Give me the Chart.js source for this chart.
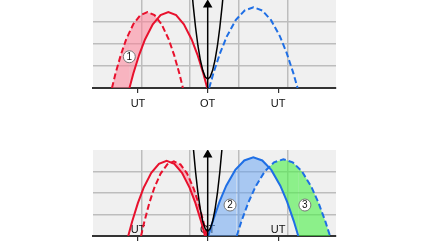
<!DOCTYPE html>
<html>
<head>
<meta charset="utf-8">
<script src="https://cdn.jsdelivr.net/npm/chart.js@4.4.0/dist/chart.umd.min.js"></script>
<style>
  html, body { margin: 0; padding: 0; background: #fff; width: 430px; height: 241px; overflow: hidden; }
  .box { position: absolute; left: 0; width: 430px; }
  #top { top: 0; height: 110px; }
  #bottom { top: 120px; height: 121px; }
</style>
</head>
<body>
<div class="box" id="top"><canvas id="chartTop"></canvas></div>
<div class="box" id="bottom"><canvas id="chartBottom"></canvas></div>
<script>
// --- data (x: grid cells 0..5, y: grid cells 0..4) ---
const tickPos = [0.926, 2.36, 3.81];
const tickLabels = ['UT', 'OT', 'UT'];

// top panel
const topRedSolidX  = [0.39, 0.75, 0.83, 0.95, 1.07, 1.23, 1.39, 1.55, 1.71, 1.87, 2.03, 2.15, 2.27, 2.35];
const topRedSolidY  = [0, 0, 0.656, 1.509, 2.208, 2.898, 3.312, 3.45, 3.312, 2.898, 2.208, 1.509, 0.656, 0];
const topRedDashX   = [0.39, 0.463, 0.573, 0.682, 0.828, 0.974, 1.12, 1.266, 1.412, 1.558, 1.668, 1.777, 1.85];
const topRedDashY   = [0, 0.656, 1.509, 2.208, 2.898, 3.312, 3.45, 3.312, 2.898, 2.208, 1.509, 0.656, 0];
const topBlueDashX  = [2.39, 2.481, 2.618, 2.754, 2.936, 3.118, 3.3, 3.482, 3.664, 3.846, 3.983, 4.119, 4.21];
const topBlueDashY  = [0, 0.697, 1.606, 2.349, 3.083, 3.523, 3.67, 3.523, 3.083, 2.349, 1.606, 0.697, 0];
const topBlackX = [2.01, 2.06, 2.11, 2.16, 2.21, 2.26, 2.31, 2.36, 2.41, 2.46, 2.51, 2.56, 2.61, 2.66, 2.71];
const topBlackY = [5.02, 3.79, 2.76, 1.91, 1.26, 0.79, 0.5, 0.41, 0.5, 0.79, 1.26, 1.91, 2.76, 3.79, 5.02];
const topMarkX = [0.747];
const topMarkY = [1.42];
const topMarkText = ['1'];

// arrow on OT (both panels)
const arrowX = [2.36, 2.36];
const arrowY = [0, 3.78];

// bottom panel
const botRedSolidX  = [0.725, 0.804, 0.923, 1.041, 1.199, 1.357, 1.515, 1.673, 1.831, 1.989, 2.108, 2.226, 2.305];
const botRedSolidY  = [0, 0.665, 1.531, 2.24, 2.94, 3.36, 3.5, 3.36, 2.94, 2.24, 1.531, 0.665, 0];
const botRedDashX   = [0.988, 1.056, 1.157, 1.258, 1.394, 1.529, 1.664, 1.799, 1.934, 2.07, 2.171, 2.272, 2.34];
const botRedDashY   = [0, 0.659, 1.518, 2.221, 2.915, 3.331, 3.47, 3.331, 2.915, 2.221, 1.518, 0.659, 0];
const botBlueSolidX = [2.372, 2.465, 2.604, 2.742, 2.928, 3.113, 3.298, 3.483, 3.668, 3.854, 3.993, 4.131, 4.224, 4.877];
const botBlueSolidY = [0, 0.695, 1.601, 2.342, 3.074, 3.514, 3.66, 3.514, 3.074, 2.342, 1.601, 0.695, 0, 0];
const botBlueDashX  = [2.372, 2.957, 3.053, 3.197, 3.341, 3.533, 3.725, 3.917, 4.109, 4.301, 4.493, 4.637, 4.781, 4.877];
const botBlueDashY  = [0, 0, 0.678, 1.562, 2.285, 2.999, 3.427, 3.57, 3.427, 2.999, 2.285, 1.562, 0.678, 0];
const botBlackX = [2.01, 2.06, 2.11, 2.16, 2.21, 2.26, 2.31, 2.36, 2.41, 2.46, 2.51, 2.56, 2.61, 2.66, 2.71];
const botBlackY = [5.65, 4.21, 2.99, 1.99, 1.22, 0.66, 0.33, 0.22, 0.33, 0.66, 1.22, 1.99, 2.99, 4.21, 5.65];
const botMarkX = [2.82, 4.36];
const botMarkY = [1.44, 1.44];
const botMarkText = ['2', '3'];

// --- colours ---
const RED = '#e8112d', BLUE = '#1f6fe5';
const PINK = 'rgba(255,127,149,0.53)', LBLUE = 'rgba(96,160,244,0.5)', GREEN = 'rgba(73,240,70,0.6)';
const NONE = 'rgba(0,0,0,0)';
const GRID = '#bdbdbd';

const pts = (xs, ys) => xs.map((x, i) => ({x: x, y: ys[i]}));
// hide the parts that only run along the axis (they exist for the fills)
const hideFlat = {borderColor: c => (c.p0.parsed.y === 0 && c.p1.parsed.y === 0) ? NONE : undefined};

function curve(xs, ys, color, dashed, extra) {
  return Object.assign({
    data: pts(xs, ys), showLine: true, borderColor: color, borderWidth: 2, borderDash: dashed ? [6, 3] : [],
    pointRadius: 0, tension: 0, fill: false, segment: hideFlat
  }, extra || {});
}

function marks(xs, ys, texts) {
  return {
    data: pts(xs, ys), showLine: false, pointRadius: 6, pointHoverRadius: 6,
    pointBackgroundColor: '#fff', pointBorderColor: '#777', pointBorderWidth: 1, texts: texts
  };
}

const black = (xs, ys) => ({data: pts(xs, ys), showLine: true, borderColor: '#000', borderWidth: 1.5, pointRadius: 0, fill: false});
const arrow = () => ({
  data: pts(arrowX, arrowY), showLine: true, borderColor: '#000', borderWidth: 1.5,
  pointRadius: [0, 4], pointStyle: 'triangle', pointBackgroundColor: '#000', pointBorderColor: '#000', fill: false
});

const bgPlugin = {
  id: 'bg',
  beforeDraw(chart) {
    const a = chart.chartArea, ctx = chart.ctx;
    ctx.save(); ctx.fillStyle = '#f0f0f0';
    ctx.fillRect(a.left, a.top, a.right - a.left, a.bottom - a.top);
    ctx.restore();
  }
};

const numPlugin = {
  id: 'nums',
  afterDatasetsDraw(chart) {
    const ctx = chart.ctx;
    const ds = chart.data.datasets[0];
    ctx.save();
    ctx.font = '10px "Liberation Sans", Arial, sans-serif';
    ctx.fillStyle = '#111'; ctx.textAlign = 'center'; ctx.textBaseline = 'middle';
    chart.getDatasetMeta(0).data.forEach((p, i) => ctx.fillText(ds.texts[i], p.x, p.y + 0.5));
    ctx.restore();
  }
};

function makeChart(id, datasets, padTop, axisH, labelPad, mirror) {
  return new Chart(document.getElementById(id), {
    type: 'scatter',
    data: {datasets: datasets},
    options: {
      responsive: true, maintainAspectRatio: false, animation: false,
      layout: {autoPadding: false, padding: {left: 93, right: 94, top: padTop, bottom: 0}},
      plugins: {legend: {display: false}, tooltip: {enabled: false}, filler: {drawTime: 'beforeDatasetsDraw'}},
      scales: {
        x: {
          type: 'linear', position: 'bottom', min: 0, max: 5,
          afterBuildTicks: s => { s.ticks = tickPos.map(v => ({value: v})); },
          afterFit: s => { s.height = axisH; },
          ticks: {callback: (v, i) => tickLabels[i], padding: labelPad, mirror: mirror, color: '#111',
                  font: {family: '"Liberation Sans", Arial, sans-serif', size: 11}, maxRotation: 0, autoSkip: false},
          grid: {drawOnChartArea: false, tickLength: 5, color: '#333', lineWidth: 1.2},
          border: {display: true, color: '#333', width: 2}
        },
        xg: {
          type: 'linear', position: 'top', min: 0, max: 5,
          afterFit: s => { s.height = 0; },
          ticks: {display: false, stepSize: 1},
          grid: {drawTicks: false, lineWidth: 1.5, color: c => (c.tick.value === 0 || c.tick.value === 5) ? NONE : GRID},
          border: {display: false}
        },
        y: {
          min: 0, max: 4,
          afterFit: s => { s.width = 0; },
          ticks: {display: false, stepSize: 1},
          grid: {drawTicks: false, lineWidth: 1.5, color: c => (c.tick.value === 0 || c.tick.value === 4) ? NONE : GRID},
          border: {display: false}
        }
      }
    },
    plugins: [bgPlugin, numPlugin]
  });
}

// lower index is drawn on top
makeChart('chartTop', [
  marks(topMarkX, topMarkY, topMarkText),
  arrow(),
  black(topBlackX, topBlackY),
  curve(topBlueDashX, topBlueDashY, BLUE, true),
  curve(topRedDashX, topRedDashY, RED, true, {fill: {target: 5, above: PINK, below: NONE}}),
  curve(topRedSolidX, topRedSolidY, RED, false)
], 0, 22, 4, false);

makeChart('chartBottom', [
  marks(botMarkX, botMarkY, botMarkText),
  arrow(),
  black(botBlackX, botBlackY),
  curve(botBlueDashX, botBlueDashY, BLUE, true, {fill: {target: 4, above: GREEN, below: LBLUE}}),
  curve(botBlueSolidX, botBlueSolidY, BLUE, false),
  curve(botRedDashX, botRedDashY, RED, true, {fill: {target: 6, above: PINK, below: NONE}}),
  curve(botRedSolidX, botRedSolidY, RED, false)
], 30, 5, -1, true);
</script>
</body>
</html>
